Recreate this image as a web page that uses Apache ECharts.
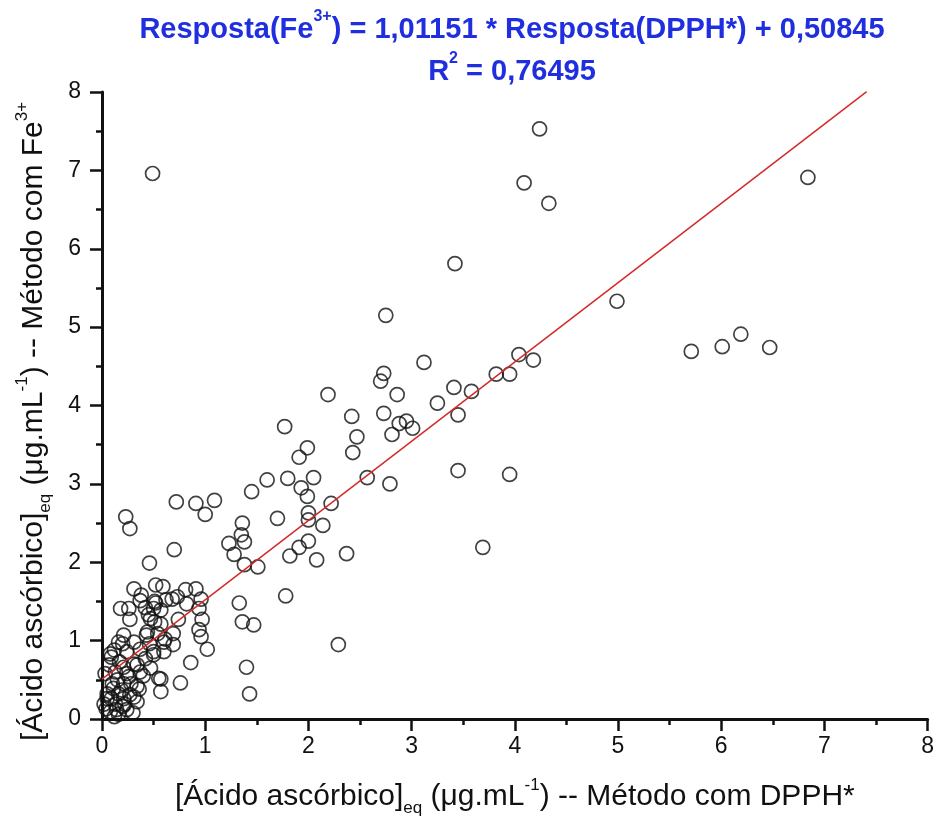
<!DOCTYPE html>
<html>
<head>
<meta charset="utf-8">
<script src="https://cdn.jsdelivr.net/npm/echarts@6/dist/echarts.min.js"></script>
<style>html,body{margin:0;padding:0;background:#fff;}#c{width:937px;height:832px;}</style>
</head>
<body>
<div id="c"></div>
<script>
// Data: [DPPH method x, Fe3+ method y]
const pointsHigh = [
  [0.49,6.96],[4.24,7.53],[4.09,6.84],[4.33,6.58],[6.84,6.91],[3.42,5.81],[4.99,5.33],[2.75,5.15],
  [5.71,4.69],[6.01,4.75],[6.19,4.91],[6.47,4.74],[4.18,4.58],[4.04,4.65],[3.12,4.55],[2.73,4.41],
  [2.70,4.31],[2.19,4.14],[2.86,4.14],[3.41,4.23],[3.58,4.18],[3.82,4.40],[3.95,4.40],[3.25,4.03],
  [2.42,3.86],[2.73,3.90],[3.45,3.88],[1.77,3.73],[2.47,3.60],[2.81,3.63],[2.88,3.77],[2.95,3.80],
  [3.01,3.71],[1.99,3.46],[2.43,3.40],[1.91,3.34],[1.60,3.05],[1.80,3.07],[2.05,3.08],[2.57,3.08],
  [1.93,2.95],[1.45,2.90],[2.79,3.00],[3.45,3.17],[3.95,3.12],[1.99,2.84],[2.22,2.75],[1.70,2.56],
  [2.00,2.63],[2.00,2.54],[2.14,2.47],[2.00,2.27],[1.91,2.19],[1.82,2.08],[2.08,2.03],[2.37,2.11],
  [1.78,1.57],[3.69,2.19],[2.29,0.95]
];
const pointsMid = [
  [0.23,2.58],[0.27,2.43],[0.72,2.77],[0.91,2.75],[1.09,2.79],[1.00,2.61],[0.70,2.16],[0.46,1.99],
  [1.36,2.50],[1.35,2.35],[1.23,2.24],[1.38,2.26],[1.28,2.10],[1.38,1.97],[1.51,1.94],[1.33,1.48],
  [1.36,1.24],[1.47,1.20],[1.40,0.66],[1.43,0.32]
];
const pointsLow = [
  [0.31,1.66],[0.52,1.71],[0.59,1.69],[0.81,1.65],[0.91,1.66],[0.38,1.58],[0.68,1.53],[0.62,1.52],
  [0.96,1.53],[0.18,1.41],[0.26,1.41],[0.37,1.51],[0.51,1.50],[0.82,1.47],[0.42,1.42],[0.94,1.41],
  [0.73,1.56],[0.27,1.27],[0.47,1.28],[0.51,1.24],[0.57,1.21],[0.74,1.27],[0.97,1.27],[0.21,1.07],
  [0.44,1.11],[0.54,1.09],[0.61,1.02],[0.69,1.09],[0.94,1.14],[0.96,1.05],[0.16,0.98],[0.20,0.96],
  [0.31,0.98],[0.46,0.96],[0.69,0.95],[0.08,0.83],[0.24,0.86],[0.37,0.89],[0.50,0.86],[0.60,0.86],
  [1.02,0.89],[0.07,0.69],[0.17,0.73],[0.31,0.70],[0.42,0.77],[0.47,0.65],[0.86,0.72],[0.03,0.58],
  [0.13,0.60],[0.24,0.58],[0.37,0.60],[0.55,0.52],[0.76,0.46],[0.10,0.45],[0.21,0.45],[0.34,0.42],
  [0.57,0.35],[0.05,0.32],[0.16,0.32],[0.27,0.31],[0.02,0.19],[0.13,0.19],[0.22,0.19],[0.34,0.22],
  [0.08,0.09],[0.16,0.06],[0.24,0.12],[0.12,0.88],[0.21,0.66],[0.09,0.26],[0.36,0.38],[0.26,0.54],
  [0.15,0.50],[0.04,0.13],[0.14,0.12],[0.50,0.82],[0.60,0.98],[0.43,1.07],[0.50,1.41],[0.57,1.39],
  [0.09,0.79],[0.52,1.48],[0.45,1.33],[0.34,0.69],[0.57,0.51],[0.31,0.28],[0.21,0.26],[0.05,0.26],
  [0.11,0.39],[0.19,0.37],[0.28,0.45],[0.40,0.55],[0.12,0.03],[0.20,0.16],[0.30,0.08]
];
// Linear fit shown in the title
const fitSlope = 1.01151;
const fitIntercept = 0.50845;
const fitXRange = [0, 7.41];
const xTicks = [0, 8, 1];
const yTicks = [0, 8, 1];

const allPoints = pointsHigh.concat(pointsMid, pointsLow);
const fitLine = fitXRange.map(x => [x, fitSlope * x + fitIntercept]);

const chart = echarts.init(document.getElementById('c'));
const axisFont = 'Liberation Sans, Arial, sans-serif';
function nameRich(size, small) {
  return {
    n: {fontSize: size, fontFamily: axisFont, color: '#111', lineHeight: 40},
    sub: {fontSize: small, fontFamily: axisFont, color: '#111', verticalAlign: 'bottom', lineHeight: 40},
    sup: {fontSize: small, fontFamily: axisFont, color: '#111', verticalAlign: 'top', lineHeight: 40}
  };
}
const blue = '#1f2fe0';
chart.setOption({
  backgroundColor: '#fff',
  animation: false,
  title: {
    left: 507,
    top: 4,
    textAlign: 'center',
    text: '{n|Resposta(Fe}{s|3+}{n|) = 1,01151 * Resposta(DPPH*) + 0,50845}\n{n|R}{s|2}{n| = 0,76495}',
    textStyle: {
      align: 'center',
      rich: {
        n: {fontSize: 29, fontWeight: 'bold', fontFamily: 'Liberation Sans, Arial, sans-serif', color: blue, lineHeight: 42},
        s: {fontSize: 16, fontWeight: 'bold', fontFamily: 'Liberation Sans, Arial, sans-serif', color: blue, verticalAlign: 'top', lineHeight: 42}
      }
    }
  },
  grid: {left: 102, right: 9, top: 92, bottom: 113, containLabel: false},
  xAxis: {
    type: 'value', min: xTicks[0], max: xTicks[1], interval: xTicks[2],
    name: '{n|[Ácido ascórbico]}{sub|eq}{n| (μg.mL}{sup|-1}{n|) -- Método com DPPH*}',
    nameLocation: 'middle', nameGap: 58,
    nameTextStyle: {rich: nameRich(30, 17)},
    axisLine: {show: true, onZero: false, lineStyle: {color: '#111', width: 3}},
    axisTick: {show: true, inside: false, length: 12, lineStyle: {color: '#111', width: 2.5}},
    minorTick: {show: true, splitNumber: 2, length: 6, lineStyle: {color: '#111', width: 2.5}},
    splitLine: {show: false},
    axisLabel: {color: '#111', fontSize: 23, fontFamily: axisFont, margin: 16}
  },
  yAxis: {
    type: 'value', min: yTicks[0], max: yTicks[1], interval: yTicks[2],
    name: '{n|[Ácido ascórbico]}{sub|eq}{n| (μg.mL}{sup|-1}{n|) -- Método com Fe}{sup|3+}',
    nameLocation: 'middle', nameGap: 48, nameRotate: 90,
    nameTextStyle: {rich: nameRich(30, 17), padding: [0, 32, 0, 0]},
    axisLine: {show: true, onZero: false, lineStyle: {color: '#111', width: 3}},
    axisTick: {show: true, inside: false, length: 12, lineStyle: {color: '#111', width: 2.5}},
    minorTick: {show: true, splitNumber: 2, length: 6, lineStyle: {color: '#111', width: 2.5}},
    splitLine: {show: false},
    axisLabel: {color: '#111', fontSize: 23, fontFamily: axisFont, margin: 21}
  },
  series: [
    {
      type: 'line', data: fitLine, showSymbol: false, symbol: 'none', z: 3,
      lineStyle: {color: '#d42a2a', width: 1.5}
    },
    {
      type: 'scatter', data: allPoints, symbol: 'circle', symbolSize: 14, z: 2,
      itemStyle: {color: 'rgba(255,255,255,0)', borderColor: '#111', borderWidth: 1.7}
    }
  ]
});
</script>
</body>
</html>
